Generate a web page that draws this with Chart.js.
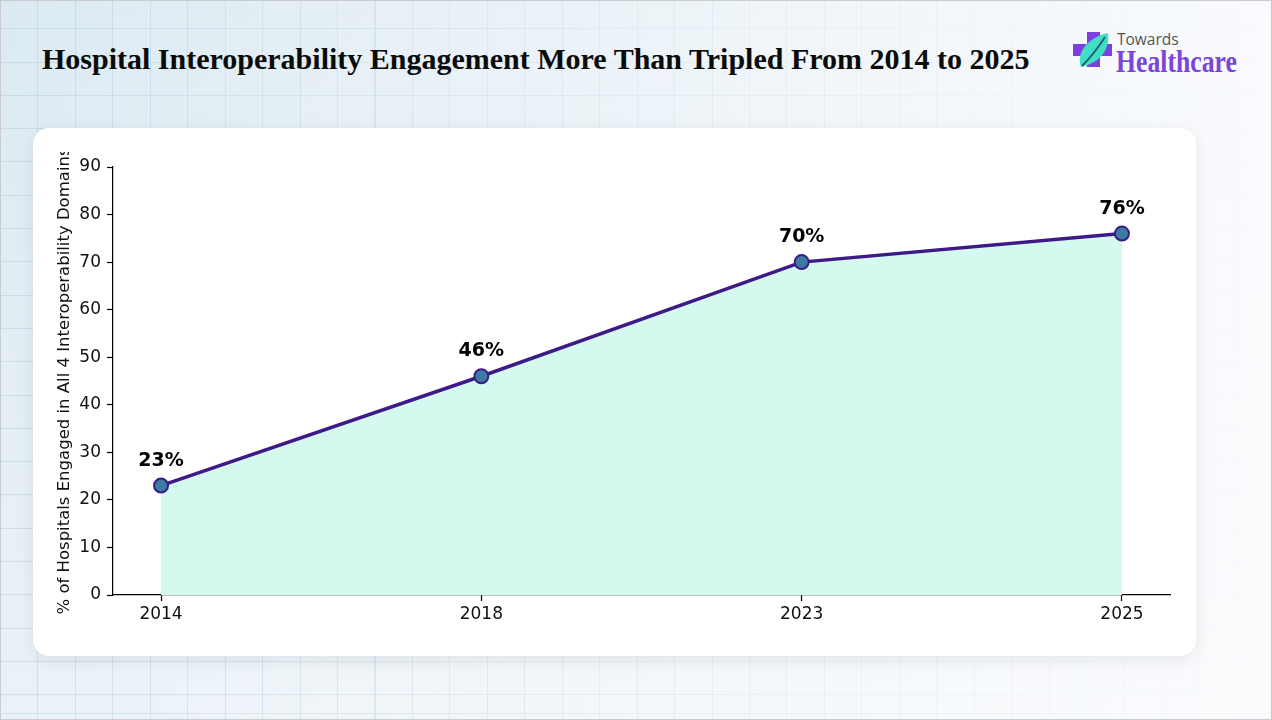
<!DOCTYPE html>
<html>
<head>
<meta charset="utf-8">
<script src="https://cdn.jsdelivr.net/npm/chart.js@4.4.1/dist/chart.umd.min.js"></script>
<style>
  html, body { margin: 0; padding: 0; }
  body { width: 1272px; height: 720px; overflow: hidden; position: relative; font-family: "DejaVu Sans", sans-serif; }
  #bg {
    position: absolute; left: 0; top: 0; width: 1272px; height: 720px; box-sizing: border-box;
    border: 1px solid #c9cbcd;
    background:
      linear-gradient(to right, rgba(248,250,252,0) 0%, rgba(248,250,252,0.55) 55%, rgba(250,251,253,0.95) 100%),
      repeating-linear-gradient(to right, rgba(175,200,212,0.45) 0px, rgba(175,200,212,0.45) 1px, transparent 1px, transparent 37.45px),
      repeating-linear-gradient(to bottom, rgba(175,200,212,0.45) 0px, rgba(175,200,212,0.45) 1px, transparent 1px, transparent 33.3px),
      linear-gradient(160deg, #dbeaf2 0%, #e6f0f6 45%, #f4f7fa 100%);
    background-position: 0 0, -1px 0, 0 -6px, 0 0;
  }
  #title {
    position: absolute; left: 42px; top: 44px; margin: 0;
    font-family: "Liberation Serif", "Times New Roman", serif; font-weight: bold; font-size: 30px; line-height: 30px;
    color: #0b0b0b; white-space: nowrap;
  }
  #logo { position: absolute; left: 1072px; top: 30px; width: 190px; height: 50px; }
  #logo .towards { position: absolute; left: 45px; top: 0px; font-family: "Open Sans", sans-serif; font-size: 15.5px; color: #555; line-height: 18px; }
  #logo .hc { position: absolute; left: 44px; top: 16px; font-family: "Liberation Serif", serif; font-weight: bold; font-size: 31px; color: #7b45d9; line-height: 32px; transform: scaleX(0.83); transform-origin: 0 0; white-space: nowrap; }
  #card {
    position: absolute; left: 33px; top: 128px; width: 1163px; height: 528px;
    background: #ffffff; border-radius: 16px;
    box-shadow: 0 4px 18px rgba(0,0,0,0.08);
  }
  #chart { position: absolute; left: 0; top: 0; }
</style>
</head>
<body>
<div id="bg"></div>
<div id="title">Hospital Interoperability Engagement More Than Tripled From 2014 to 2025</div>
<div id="logo">
  <svg width="44" height="44" viewBox="0 0 44 44" style="position:absolute;left:0;top:0">
    <path d="M15 2 h13 v12 h12 v12 h-12 v11 h-13 v-11 h-14 v-12 h14 z" fill="#7d3fe0"/>
    <path d="M9 37 C 4 24, 14 8, 36 3 C 38 18, 30 32, 9 37 Z" fill="#40dfc4"/>
    <path d="M10 36 C 18 28, 26 18, 33 7" stroke="#1b5b78" stroke-width="1.8" fill="none"/>
  </svg>
  <div class="towards">Towards</div>
  <div class="hc">Healthcare</div>
</div>
<div id="card"></div>
<canvas id="chart" width="1272" height="720"></canvas>
<script>
const years = ["2014", "2018", "2023", "2025"];
const values = [23, 46, 70, 76];
const yTicks = [0, 10, 20, 30, 40, 50, 60, 70, 80, 90];
const yAxisTitle = "% of Hospitals Engaged in All 4 Interoperability Domains";

const labelPlugin = {
  id: 'valueLabels',
  afterDatasetsDraw(chart) {
    const ctx = chart.ctx;
    const meta = chart.getDatasetMeta(0);
    ctx.save();
    ctx.font = 'bold 19px "DejaVu Sans"';
    ctx.fillStyle = '#000';
    ctx.textAlign = 'center';
    ctx.textBaseline = 'alphabetic';
    meta.data.forEach((pt, i) => {
      ctx.fillText(values[i] + '%', pt.x, pt.y - 20);
    });
    ctx.restore();
  }
};

const yTitlePlugin = {
  id: 'yTitle',
  afterDraw(chart) {
    const ctx = chart.ctx;
    const a = chart.chartArea;
    ctx.save();
    ctx.beginPath();
    ctx.rect(0, 152, 200, 600);
    ctx.clip();
    ctx.translate(65, (a.top + a.bottom) / 2);
    ctx.rotate(-Math.PI / 2);
    ctx.font = '16.5px "DejaVu Sans"';
    ctx.fillStyle = '#111';
    ctx.textAlign = 'center';
    ctx.textBaseline = 'middle';
    ctx.fillText(yAxisTitle, 0, 0);
    ctx.restore();
  }
};

new Chart(document.getElementById('chart'), {
  type: 'line',
  data: {
    datasets: [{
      data: values.map((v, i) => ({ x: i, y: v })),
      borderColor: '#3d1a87',
      borderWidth: 3.5,
      backgroundColor: '#d5f8ef',
      fill: 'origin',
      tension: 0,
      pointRadius: 7,
      pointHoverRadius: 7,
      pointBackgroundColor: '#3b7ba0',
      pointBorderColor: '#3d1a87',
      pointBorderWidth: 2
    }]
  },
  options: {
    responsive: false,
    animation: false,
    devicePixelRatio: 1,
    layout: { autoPadding: false, padding: { left: 0, top: 167, right: 102, bottom: 85 } },
    plugins: { legend: { display: false }, tooltip: { enabled: false } },
    scales: {
      x: {
        type: 'linear',
        min: -0.15,
        max: 3.15,
        afterBuildTicks(scale) { scale.ticks = years.map((y, i) => ({ value: i })); },
        afterFit(scale) { scale.height = 40; },
        ticks: {
          autoSkip: false,
          maxRotation: 0,
          padding: 3,
          color: '#111',
          font: { family: '"DejaVu Sans"', size: 17 },
          callback: (v) => years[v]
        },
        grid: { drawOnChartArea: false, drawTicks: true, tickLength: 6, tickColor: '#000', tickWidth: 1.2 },
        border: { display: true, color: '#000', width: 1.2 }
      },
      y: {
        min: 0,
        max: 90,
        afterBuildTicks(scale) { scale.ticks = yTicks.map(v => ({ value: v })); },
        afterFit(scale) { scale.width = 113; },
        ticks: {
          padding: 6,
          color: '#111',
          font: { family: '"DejaVu Sans"', size: 17 },
          callback: (v) => String(v)
        },
        grid: { drawOnChartArea: false, drawTicks: true, tickLength: 6, tickColor: '#000', tickWidth: 1.2 },
        border: { display: true, color: '#000', width: 1.2 }
      }
    }
  },
  plugins: [labelPlugin, yTitlePlugin]
});
</script>
</body>
</html>
